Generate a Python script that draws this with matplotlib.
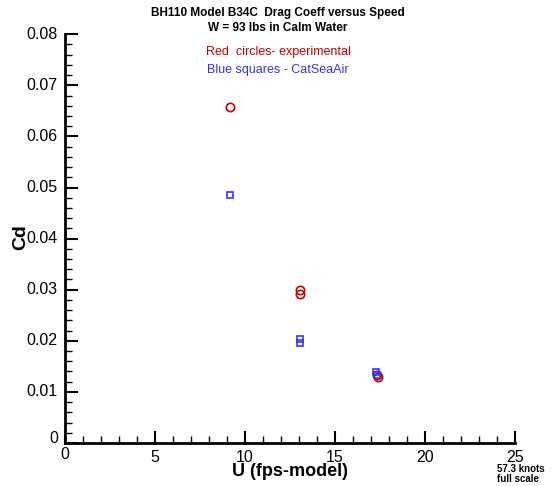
import matplotlib.pyplot as plt
from matplotlib.ticker import MultipleLocator

plt.rcParams['font.family'] = ['Liberation Sans', 'DejaVu Sans']

# ---- data ----
u_exp  = [9.15, 13.05, 13.05, 17.35, 17.4]
cd_exp = [0.0657, 0.0299, 0.0291, 0.0133, 0.0129]

u_csa  = [9.15, 13.05, 13.05, 17.3, 17.35]
cd_csa = [0.0485, 0.0203, 0.0195, 0.0139, 0.0133]

fig = plt.figure(figsize=(5.56, 4.86), dpi=100)
ax = fig.add_axes([0.117, 0.0885, 0.809, 0.841])

ax.plot(u_exp, cd_exp, 'o', mfc='none', mec='#cc0000', ms=6, mew=1.2)
ax.plot(u_csa, cd_csa, 's', mfc='none', mec='#3333ff', ms=4.5, mew=1.2)

ax.set_xlim(0, 25)
ax.set_ylim(0, 0.08)
ax.xaxis.set_major_locator(MultipleLocator(5))
ax.xaxis.set_minor_locator(MultipleLocator(1))
ax.yaxis.set_major_locator(MultipleLocator(0.01))
ax.yaxis.set_minor_locator(MultipleLocator(0.002))
ax.set_xticklabels([])
ax.set_yticklabels([])

for s in ['top', 'right']:
    ax.spines[s].set_visible(False)
for s in ['left', 'bottom']:
    ax.spines[s].set_linewidth(2)
ax.tick_params(which='major', direction='in', length=9, width=1.5)
ax.tick_params(which='minor', direction='in', length=5, width=1)

# tick labels, Tecplot style
for v in [5, 10, 15, 20, 25]:
    ax.text(v, -0.0013, str(v), ha='center', va='top', fontsize=11.5)
ax.text(0, -0.0008, '0', ha='center', va='top', fontsize=11.5)
for i in range(1, 9):
    v = i * 0.01
    ax.text(-0.4, v, f'{v:.2f}', ha='right', va='center', fontsize=11.5)
ax.text(-0.4, 0.0008, '0', ha='right', va='center', fontsize=11.5)

fig.text(0.038, 0.512, 'Cd', rotation=90, ha='center', va='center',
         fontsize=14, fontweight='bold')
ax.text(12.5, -0.0040, 'U (fps-model)', ha='center', va='top',
        fontsize=13, fontweight='bold')
ax.text(24.0, -0.0042, '57.3 knots\nfull scale', ha='left', va='top',
        fontsize=7, fontweight='bold', linespacing=1.0)

fig.text(0.5, 0.985, 'BH110 Model B34C  Drag Coeff versus Speed\nW = 93 lbs in Calm Water',
         ha='center', va='top', fontsize=8.5, fontweight='bold', linespacing=1.3)
fig.text(0.5, 0.894, 'Red  circles- experimental', ha='center', va='center',
         fontsize=9, color='#cc0000')
fig.text(0.5, 0.855, 'Blue squares - CatSeaAir', ha='center', va='center',
         fontsize=9, color='#3333ff')

fig.savefig('out.png', dpi=100)
